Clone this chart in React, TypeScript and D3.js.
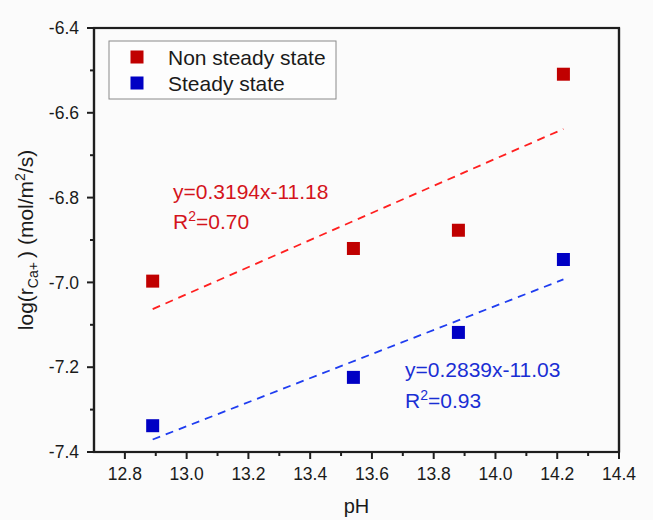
import React from "react";
import * as d3 from "d3";

const phValues = [12.89, 13.54, 13.88, 14.22];
const nonSteady = [-6.997, -6.92, -6.877, -6.509];
const steady = [-7.338, -7.224, -7.118, -6.946];
const fitSlopes = [0.3194, 0.2839];
const fitIntercepts = [-11.18, -11.03];
const xTicks = [12.8, 13.0, 13.2, 13.4, 13.6, 13.8, 14.0, 14.2, 14.4];
const yTicks = [-6.4, -6.6, -6.8, -7.0, -7.2, -7.4];
const xMinor = [12.9, 13.1, 13.3, 13.5, 13.7, 13.9, 14.1, 14.3];
const yMinor = [-6.5, -6.7, -6.9, -7.1, -7.3];
const seriesNames = ["Non steady state", "Steady state"];

const W = 653;
const H = 520;
const L = 94, R = 619, T = 28, B = 452;
const FONT = "Liberation Sans, Arial, sans-serif";
const AX = "#1e1e1e";

export default function App() {
  const x = d3.scaleLinear().domain([12.7, 14.4]).range([L, R]);
  const y = d3.scaleLinear().domain([-7.4, -6.4]).range([B, T]);
  const markerColors = ["#c00000", "#0000c4"];
  const lineColors = ["#ff1f1f", "#1f3df0"];
  const textColors = ["#d4141c", "#1a2ed4"];
  const series = [nonSteady, steady];
  const ms = 13;
  const line = d3.line<[number, number]>().x((d) => x(d[0])).y((d) => y(d[1]));
  const x0 = phValues[0];
  const x1 = phValues[phValues.length - 1];

  return (
    <svg width={W} height={H} style={{ position: "absolute", left: 0, top: 0, background: "#fbfbfb" }} fontFamily={FONT}>
      <rect x={0} y={0} width={W} height={H} fill="#fbfbfb" />
      <rect x={L} y={T} width={R - L} height={B - T} fill="none" stroke={AX} strokeWidth={2.2} />
      <line x1={L} y1={B} x2={R} y2={B} stroke={AX} strokeWidth={2.2} />
      <line x1={L} y1={T} x2={L} y2={B} stroke={AX} strokeWidth={2.2} />
      <line x1={L} y1={T} x2={R} y2={T} stroke={AX} strokeWidth={2.2} />
      <line x1={R} y1={T} x2={R} y2={B} stroke={AX} strokeWidth={2.2} />
      {xTicks.map((t) => (
        <line key={"xt" + t} x1={x(t)} x2={x(t)} y1={B} y2={B + 7} stroke={AX} strokeWidth={2} />
      ))}
      {xMinor.map((t) => (
        <line key={"xm" + t} x1={x(t)} x2={x(t)} y1={B} y2={B + 4} stroke={AX} strokeWidth={2} />
      ))}
      {yTicks.map((t) => (
        <line key={"yt" + t} x1={L - 7} x2={L} y1={y(t)} y2={y(t)} stroke={AX} strokeWidth={2} />
      ))}
      {yMinor.map((t) => (
        <line key={"ym" + t} x1={L - 4} x2={L} y1={y(t)} y2={y(t)} stroke={AX} strokeWidth={2} />
      ))}
      {fitSlopes.map((s, i) => (
        <path
          key={"fit" + i}
          d={line([
            [x0, s * x0 + fitIntercepts[i]],
            [x1, s * x1 + fitIntercepts[i]],
          ]) as string}
          stroke={lineColors[i]}
          strokeWidth={1.8}
          strokeDasharray="8,6"
          fill="none"
        />
      ))}
      {series.map((vals, i) =>
        vals.map((v, j) => (
          <rect
            key={"m" + i + "-" + j}
            x={x(phValues[j]) - ms / 2}
            y={y(v) - ms / 2}
            width={ms}
            height={ms}
            fill={markerColors[i]}
          />
        ))
      )}
      {xTicks.map((t) => (
        <text key={"xl" + t} x={x(t)} y={480} textAnchor="middle" fontSize={17.5} fill="#1a1a1a">
          {t.toFixed(1)}
        </text>
      ))}
      {yTicks.map((t) => (
        <text key={"yl" + t} x={79} y={y(t)} dy="0.35em" textAnchor="end" fontSize={17.5} fill="#1a1a1a">
          {t.toFixed(1)}
        </text>
      ))}
      <text x={(L + R) / 2} y={513} textAnchor="middle" fontSize={20} fill="#1a1a1a">
        pH
      </text>
      <text transform={`translate(33,${(T + B) / 2}) rotate(-90)`} textAnchor="middle" fontSize={21} fill="#1a1a1a">
        <tspan>log(r</tspan>
        <tspan fontSize={14} dy={5}>Ca+</tspan>
        <tspan dy={-5}>{"\u2009) (mol/m"}</tspan>
        <tspan fontSize={14} dy={-8}>2</tspan>
        <tspan dy={8}>/s)</tspan>
      </text>
      <rect x={109} y={41} width={227} height={58} fill="#fdfdfd" stroke="#8a8a8a" strokeWidth={1} />
      {seriesNames.map((n, i) => (
        <g key={"lg" + i}>
          <rect x={137 - ms / 2} y={57 + i * 26 - ms / 2} width={ms} height={ms} fill={markerColors[i]} />
          <text x={168} y={57 + i * 26} dy="0.36em" fontSize={21} fill="#1a1a1a">
            {n}
          </text>
        </g>
      ))}
      <text x={173} y={199} fontSize={21} fill={textColors[0]}>
        {`y=${fitSlopes[0]}x${fitIntercepts[0]}`}
      </text>
      <text x={173} y={229} fontSize={21} fill={textColors[0]}>
        <tspan>R</tspan>
        <tspan fontSize={14} dy={-8}>2</tspan>
        <tspan dy={8}>=0.70</tspan>
      </text>
      <text x={405} y={377} fontSize={21} fill={textColors[1]}>
        {`y=${fitSlopes[1]}x${fitIntercepts[1]}`}
      </text>
      <text x={405} y={408} fontSize={21} fill={textColors[1]}>
        <tspan>R</tspan>
        <tspan fontSize={14} dy={-8}>2</tspan>
        <tspan dy={8}>=0.93</tspan>
      </text>
    </svg>
  );
}
